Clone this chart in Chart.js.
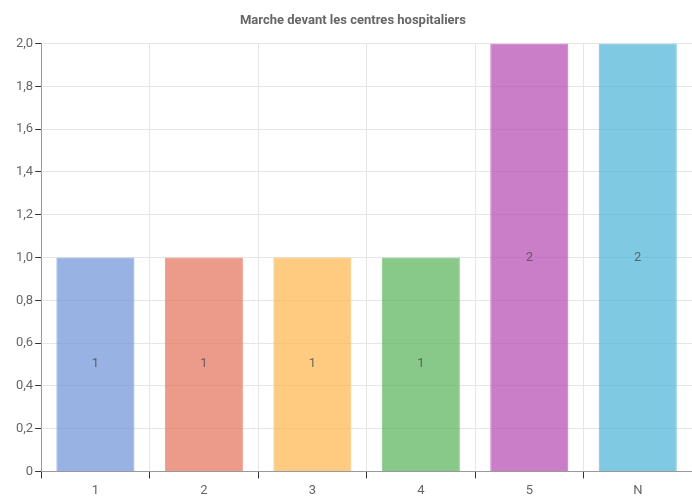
<!DOCTYPE html>
<html>
 <head>
  <meta charset="utf-8" />
  <title></title>
  <style>
   body { margin: 0; background: #fff; }
   #wrap { width: 692px; height: 504px; }
  </style>
 </head>
 <body>
  <div id="wrap"><canvas id="barChart" width="692" height="504"></canvas></div>
  <script src="https://cdn.jsdelivr.net/npm/chart.js@4/dist/chart.umd.min.js"></script>
  <script>
let categories = ['1', '2', '3', '4', '5', 'N'];
let values = [1, 1, 1, 1, 2, 2];
let colors = [
    'rgba(108,146,215,0.7)',
    'rgba(228,112,88,0.7)',
    'rgba(254,181,74,0.7)',
    'rgba(85,178,88,0.7)',
    'rgba(181,71,176,0.7)',
    'rgba(72,179,214,0.7)'
];
let title = 'Marche devant les centres hospitaliers';
let fontName = "'Liberation Sans Narrow', 'Roboto', sans-serif";

// labels in the middle of each bar
let valueLabels = {
    id: 'valueLabels',
    afterDatasetsDraw(chart) {
        let ctx = chart.ctx;
        let meta = chart.getDatasetMeta(0);
        ctx.save();
        ctx.font = '13px ' + fontName;
        ctx.fillStyle = 'rgba(70,70,70,0.75)';
        ctx.textAlign = 'center';
        ctx.textBaseline = 'middle';
        meta.data.forEach(function (bar, i) {
            let y = (bar.y + bar.base) / 2;
            ctx.fillText(String(values[i]), bar.x, y);
        });
        ctx.restore();
    }
};

Chart.defaults.font.family = fontName;
Chart.defaults.color = '#666';

new Chart(document.getElementById('barChart'), {
    type: 'bar',
    data: {
        labels: categories,
        datasets: [{
            data: values,
            backgroundColor: colors,
            borderColor: colors,
            borderWidth: 1,
            categoryPercentage: 0.72,
            barPercentage: 1
        }]
    },
    options: {
        responsive: false,
        animation: false,
        layout: { padding: { left: 14, right: 0, top: 0, bottom: 0 } },
        plugins: {
            legend: { display: false },
            tooltip: { enabled: false },
            title: {
                display: true,
                text: title,
                color: '#666',
                font: { size: 13, weight: 'bold' },
                padding: { top: 13, bottom: 15 }
            }
        },
        scales: {
            x: {
                offset: true,
                grid: {
                    offset: true,
                    color: '#e6e6e6',
                    tickColor: '#333',
                    tickLength: 7,
                    drawTicks: true
                },
                border: { color: '#999' },
                ticks: { font: { size: 13 }, color: '#666', padding: 5 }
            },
            y: {
                min: 0,
                max: 2,
                grid: {
                    color: '#e6e6e6',
                    tickColor: '#333',
                    tickLength: 6
                },
                border: { color: '#999' },
                ticks: {
                    stepSize: 0.2,
                    font: { size: 13 },
                    color: '#666',
                    padding: 2,
                    callback: function (v) {
                        if (v === 0) return '0';
                        return v.toFixed(1).replace('.', ',');
                    }
                }
            }
        }
    },
    plugins: [valueLabels]
});
  </script>
 </body>
</html>
